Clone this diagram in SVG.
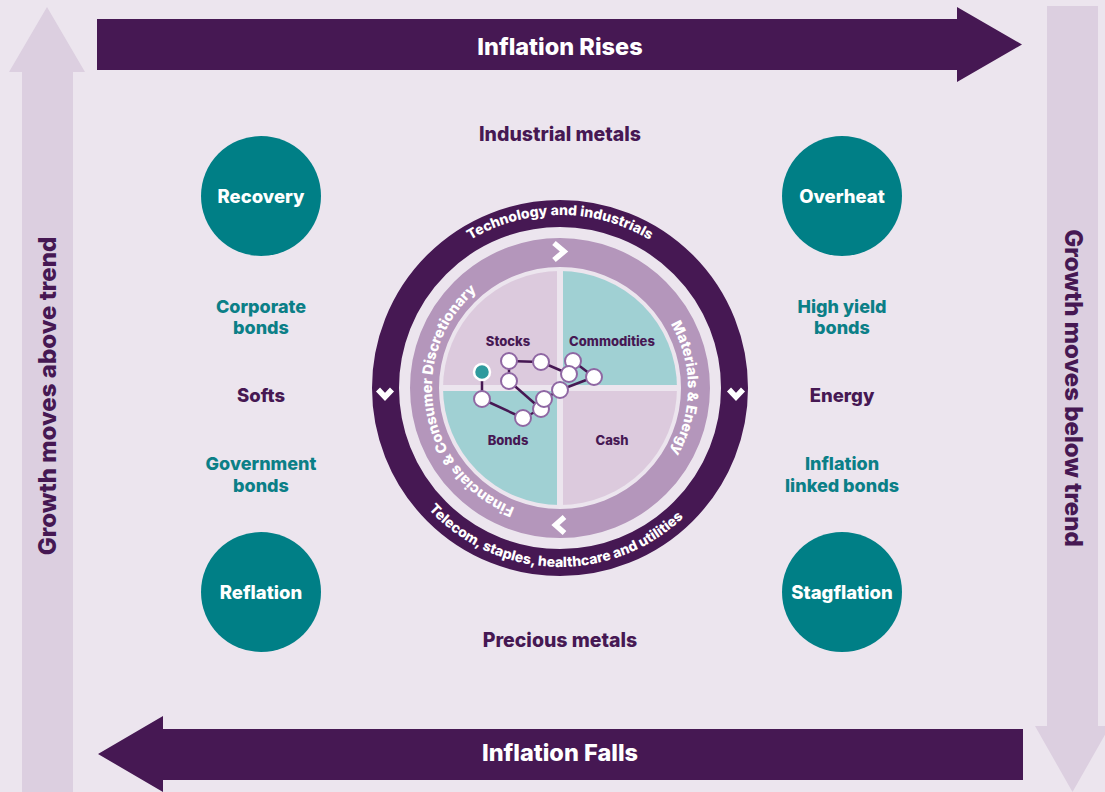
<svg xmlns="http://www.w3.org/2000/svg" width="1105" height="792" viewBox="0 0 1105 792">
  <style>
    text { font-family: Inter, Lato, "Liberation Sans", sans-serif; font-weight: 800; text-anchor: middle; }
    .banner { fill: #ffffff; font-size: 23.5px; }
    .side { fill: #461853; font-size: 24px; }
    .phase { fill: #ffffff; font-size: 18.5px; }
    .asset { fill: #0b7f87; font-size: 18px; }
    .commodity { fill: #461853; font-size: 18.5px; }
    .metal { fill: #461853; font-size: 19.5px; }
    .quad { fill: #461853; font-size: 13px; }
    .ring { fill: #ffffff; font-size: 14px; }
    .ring-side { fill: #ffffff; font-size: 14.5px; }
    .chev { fill: none; stroke: #ffffff; stroke-width: 5.5; stroke-linejoin: miter; stroke-linecap: butt; }
    .dot { fill: #ffffff; stroke: #8f67a3; stroke-width: 2; }
  </style>
  <defs>
    <clipPath id="disc"><circle cx="560" cy="388" r="117"/></clipPath>
    <path id="arcTop" d="M 387 388 A 173 173 0 0 1 733 388"/>
    <path id="arcBottom" d="M 381 388 A 179 179 0 0 0 739 388"/>
    <path id="arcRight" d="M 560 260 A 128 128 0 0 1 560 516"/>
    <path id="arcLeft" d="M 560 516 A 128 128 0 0 1 560 260"/>
  </defs>

  <rect width="1105" height="792" fill="#ece5ee"/>

  <!-- growth arrows (light) -->
  <g id="growth-above">
    <polygon points="22,792 22,72 9,72 47,7 85,72 73,72 73,792" fill="#dccfe0"/>
    <text class="side" transform="translate(55.5,396) rotate(-90)">Growth moves above trend</text>
  </g>
  <g id="growth-below">
    <polygon points="1047,6 1098,6 1098,726 1110,726 1072.5,792 1035,726 1047,726" fill="#dccfe0"/>
    <text class="side" transform="translate(1064.5,388) rotate(90)">Growth moves below trend</text>
  </g>

  <!-- inflation arrows (dark) -->
  <g id="inflation-rises">
    <polygon points="97,19 957,19 957,7 1022,44.5 957,82 957,70 97,70" fill="#461853"/>
    <text class="banner" x="560" y="54.5">Inflation Rises</text>
  </g>
  <g id="inflation-falls">
    <polygon points="1023,729 163,729 163,716 98,754 163,792 163,780 1023,780" fill="#461853"/>
    <text class="banner" x="560" y="761">Inflation Falls</text>
  </g>

  <!-- cycle phases -->
  <g id="recovery">
    <circle cx="261" cy="196" r="60" fill="#007f86"/>
    <text class="phase" x="261" y="202.5">Recovery</text>
  </g>
  <g id="overheat">
    <circle cx="842" cy="196" r="60" fill="#007f86"/>
    <text class="phase" x="842" y="202.5">Overheat</text>
  </g>
  <g id="reflation">
    <circle cx="261" cy="592" r="60" fill="#007f86"/>
    <text class="phase" x="261" y="598.5">Reflation</text>
  </g>
  <g id="stagflation">
    <circle cx="842" cy="592" r="60" fill="#007f86"/>
    <text class="phase" x="842" y="598.5">Stagflation</text>
  </g>

  <!-- asset labels -->
  <g id="industrial-metals"><text class="metal" x="560" y="141">Industrial metals</text></g>
  <g id="precious-metals"><text class="metal" x="560" y="647">Precious metals</text></g>
  <g id="corporate-bonds"><text class="asset" x="261" y="312.5">Corporate</text><text class="asset" x="261" y="334">bonds</text></g>
  <g id="softs"><text class="commodity" x="261" y="402">Softs</text></g>
  <g id="government-bonds"><text class="asset" x="261" y="469.5">Government</text><text class="asset" x="261" y="491.5">bonds</text></g>
  <g id="high-yield-bonds"><text class="asset" x="842" y="312.5">High yield</text><text class="asset" x="842" y="334">bonds</text></g>
  <g id="energy"><text class="commodity" x="842" y="402">Energy</text></g>
  <g id="inflation-linked-bonds"><text class="asset" x="842" y="469.5">Inflation</text><text class="asset" x="842" y="491.5">linked bonds</text></g>

  <!-- sector wheel -->
  <g id="sector-wheel">
    <circle cx="560" cy="388" r="174.5" fill="none" stroke="#461853" stroke-width="27"/>
    <circle cx="560" cy="388" r="135.5" fill="none" stroke="#b496bb" stroke-width="29"/>
    <text class="ring"><textPath href="#arcTop" startOffset="50%">Technology and industrials</textPath></text>
    <text class="ring"><textPath href="#arcBottom" startOffset="49%">Telecom, staples, healthcare and utilities</textPath></text>
    <text class="ring-side"><textPath href="#arcRight" startOffset="50%">Materials &amp; Energy</textPath></text>
    <text class="ring-side"><textPath href="#arcLeft" startOffset="44.5%">Financials &amp; Consumer Discretionary</textPath></text>
    <polyline class="chev" points="554,243 564,251.5 554,260"/>
    <polyline class="chev" points="564.5,517 555.5,525 564.5,533"/>
    <polyline class="chev" points="378,389.5 385,397 392,389.5"/>
    <polyline class="chev" points="729,389.5 736,397 743,389.5"/>
  </g>

  <!-- asset class quadrants -->
  <g id="quadrants" clip-path="url(#disc)">
    <rect x="440" y="268" width="117" height="117" fill="#dccadd"/>
    <rect x="563" y="268" width="117" height="117" fill="#a0d0d3"/>
    <rect x="440" y="391" width="117" height="117" fill="#a0d0d3"/>
    <rect x="563" y="391" width="117" height="117" fill="#dccadd"/>
  </g>
  <g id="stocks"><text class="quad" x="508" y="345.5">Stocks</text></g>
  <g id="commodities"><text class="quad" x="612" y="345.5">Commodities</text></g>
  <g id="bonds"><text class="quad" x="508" y="444.5">Bonds</text></g>
  <g id="cash"><text class="quad" x="612" y="444.5">Cash</text></g>

  <!-- cycle path through the quadrants -->
  <g id="connectors">
    <polyline points="482,372 482,399 523,418 541,409 544,399 560,390 594,377 573,361 569,374 541,362 509,361 509,381 541,409" fill="none" stroke="#461853" stroke-width="2.5" stroke-linejoin="round"/>
  </g>
  <g id="path-points">
    <circle class="dot" cx="509" cy="361" r="8"/>
    <circle class="dot" cx="541" cy="362" r="8"/>
    <circle class="dot" cx="573" cy="361" r="8"/>
    <circle class="dot" cx="594" cy="377" r="8"/>
    <circle class="dot" cx="569" cy="374" r="8"/>
    <circle class="dot" cx="560" cy="390" r="8"/>
    <circle class="dot" cx="509" cy="381" r="8"/>
    <circle class="dot" cx="482" cy="399" r="8"/>
    <circle class="dot" cx="523" cy="418" r="8"/>
    <circle class="dot" cx="541" cy="409" r="8"/>
    <circle class="dot" cx="544" cy="399" r="8"/>
    <circle cx="482" cy="372" r="8" fill="#2e9a9d" stroke="#ffffff" stroke-width="2.5"/>
  </g>
</svg>
